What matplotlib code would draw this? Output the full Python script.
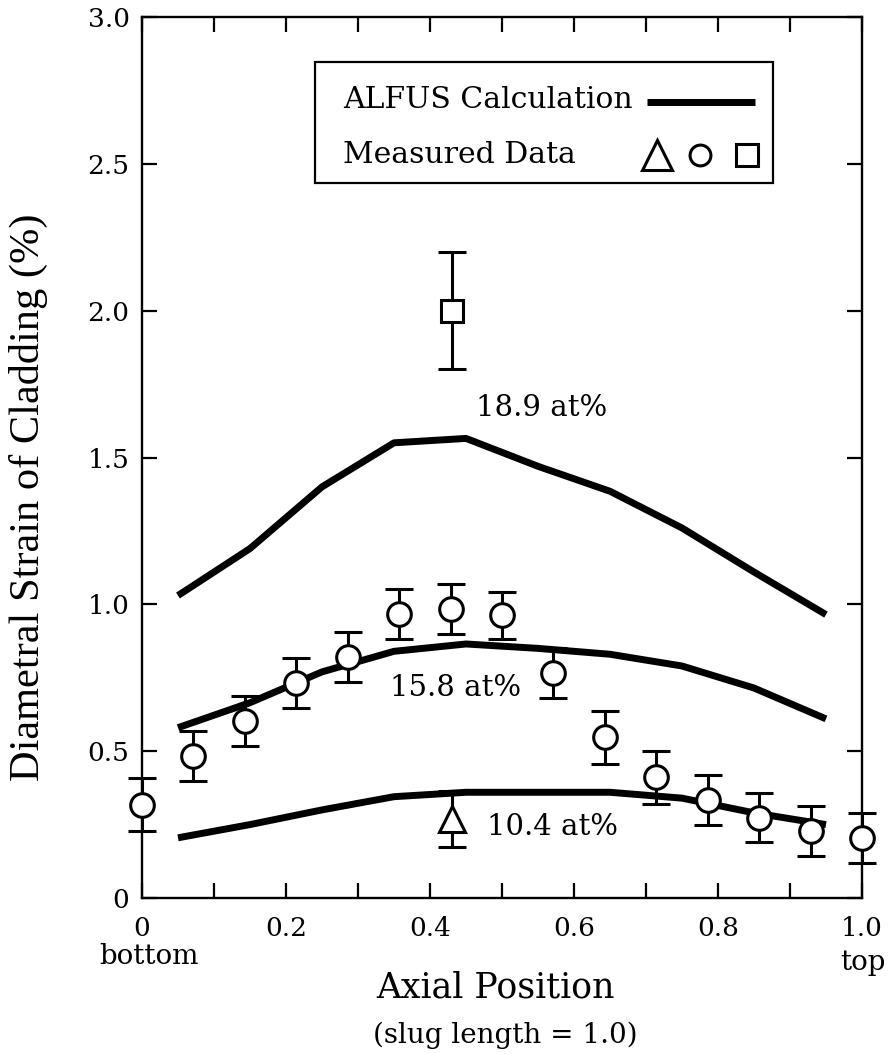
import matplotlib
matplotlib.use("Agg")
import matplotlib.pyplot as plt
import matplotlib.patches as mpatches

plt.rcParams['font.family'] = ['DejaVu Serif']

# ALFUS calculation curves (axial position, diametral strain %)
calc_x = [0.05, 0.15, 0.25, 0.35, 0.45, 0.55, 0.65, 0.75, 0.85, 0.95]
calc_189 = [1.03, 1.19, 1.40, 1.55, 1.565, 1.47, 1.385, 1.26, 1.11, 0.965]
calc_158 = [0.58, 0.665, 0.77, 0.84, 0.865, 0.85, 0.83, 0.79, 0.715, 0.61]
calc_104 = [0.205, 0.25, 0.30, 0.345, 0.36, 0.36, 0.36, 0.34, 0.29, 0.25]

# measured data, circles
circ_x = [0.0, 0.071, 0.143, 0.214, 0.286, 0.357, 0.429, 0.5, 0.571, 0.643,
          0.714, 0.786, 0.857, 0.929, 1.0]
circ_y = [0.317, 0.483, 0.603, 0.731, 0.821, 0.966, 0.983, 0.962, 0.767, 0.548,
          0.411, 0.334, 0.274, 0.229, 0.205]
circ_err = [0.09, 0.085, 0.085, 0.085, 0.085, 0.085, 0.085, 0.08, 0.085, 0.09,
            0.09, 0.085, 0.085, 0.085, 0.085]

# measured data, triangle and square
tri_x = [0.43]
tri_y = [0.27]
tri_err = [0.095]
sq_x = [0.43]
sq_y = [2.0]
sq_err = [0.2]

xticks = [0, 0.2, 0.4, 0.6, 0.8, 1.0]
xticklabels = ['0', '0.2', '0.4', '0.6', '0.8', '1.0']
xminor = [0.1, 0.3, 0.5, 0.7, 0.9]
yticks = [0, 0.5, 1.0, 1.5, 2.0, 2.5, 3.0]
yticklabels = ['0', '0.5', '1.0', '1.5', '2.0', '2.5', '3.0']

W, H = 891, 1054


def main():
	fig = plt.figure(figsize=(W / 100, H / 100), dpi=100)
	ax = fig.add_axes([142 / W, 1 - 898 / H, 720 / W, 881 / H])

	#calculation lines
	for ys in [calc_189, calc_158, calc_104]:
		ax.plot(calc_x, ys, color='black', lw=5, solid_capstyle='butt', zorder=3)

	#measured points with error bars
	common = dict(color='black', ecolor='black', elinewidth=2.2, capsize=10, capthick=2.2,
				  markerfacecolor='white', markeredgecolor='black', markeredgewidth=2.2,
				  linestyle='none', zorder=4, clip_on=False)
	ax.errorbar(circ_x, circ_y, yerr=circ_err, marker='o', markersize=17, **common)
	ax.errorbar(tri_x, tri_y, yerr=tri_err, marker='^', markersize=19, **common)
	ax.errorbar(sq_x, sq_y, yerr=sq_err, marker='s', markersize=16, **common)

	#curve labels
	ax.text(0.555, 1.67, '18.9 at%', fontsize=21, ha='center', va='center')
	ax.text(0.435, 0.715, '15.8 at%', fontsize=21, ha='center', va='center')
	ax.text(0.57, 0.242, '10.4 at%', fontsize=21, ha='center', va='center')

	#legend box drawn by hand
	box = mpatches.Rectangle((0.24, 0.812), 0.636, 0.137, transform=ax.transAxes,
							 facecolor='white', edgecolor='black', lw=1.6, zorder=5)
	ax.add_patch(box)
	ax.text(0.279, 0.906, 'ALFUS Calculation', transform=ax.transAxes, fontsize=21.5,
			va='center', ha='left', zorder=6)
	ax.text(0.279, 0.843, 'Measured Data', transform=ax.transAxes, fontsize=21.5,
			va='center', ha='left', zorder=6)
	ax.plot([0.701, 0.851], [0.903, 0.903], transform=ax.transAxes, color='black',
			lw=5, solid_capstyle='butt', zorder=6)
	mk = dict(transform=ax.transAxes, markerfacecolor='white', markeredgecolor='black',
			  markeredgewidth=2.2, linestyle='none', zorder=6)
	ax.plot([0.715], [0.843], marker='^', markersize=21, **mk)
	ax.plot([0.775], [0.843], marker='o', markersize=15, **mk)
	ax.plot([0.840], [0.843], marker='s', markersize=16, **mk)

	#axes
	ax.set_xlim(0, 1)
	ax.set_ylim(0, 3)
	ax.set_xticks(xticks)
	ax.set_xticklabels(xticklabels)
	ax.set_xticks(xminor, minor=True)
	ax.set_yticks(yticks)
	ax.set_yticklabels(yticklabels)
	ax.tick_params(which='both', direction='in', top=True, right=True,
				   length=11, width=1.6, labelsize=19)
	ax.tick_params(axis='x', pad=13)
	ax.tick_params(axis='y', pad=9)
	for s in ax.spines.values():
		s.set_linewidth(1.7)

	fig.text(149 / W, 1 - 957 / H, 'bottom', fontsize=20, ha='center', va='center')
	fig.text(863 / W, 1 - 962 / H, 'top', fontsize=20, ha='center', va='center')
	fig.text(495 / W, 1 - 987 / H, 'Axial Position', fontsize=25, ha='center', va='center')
	fig.text(505 / W, 1 - 1035 / H, '(slug length = 1.0)', fontsize=20, ha='center', va='center')
	fig.text(28 / W, 1 - 497 / H, 'Diametral Strain of Cladding (%)', rotation=90,
			 fontsize=30.5, family='Liberation Serif', ha='center', va='center')

	fig.savefig('out.png', dpi=100)


if __name__ == '__main__':
	main()
